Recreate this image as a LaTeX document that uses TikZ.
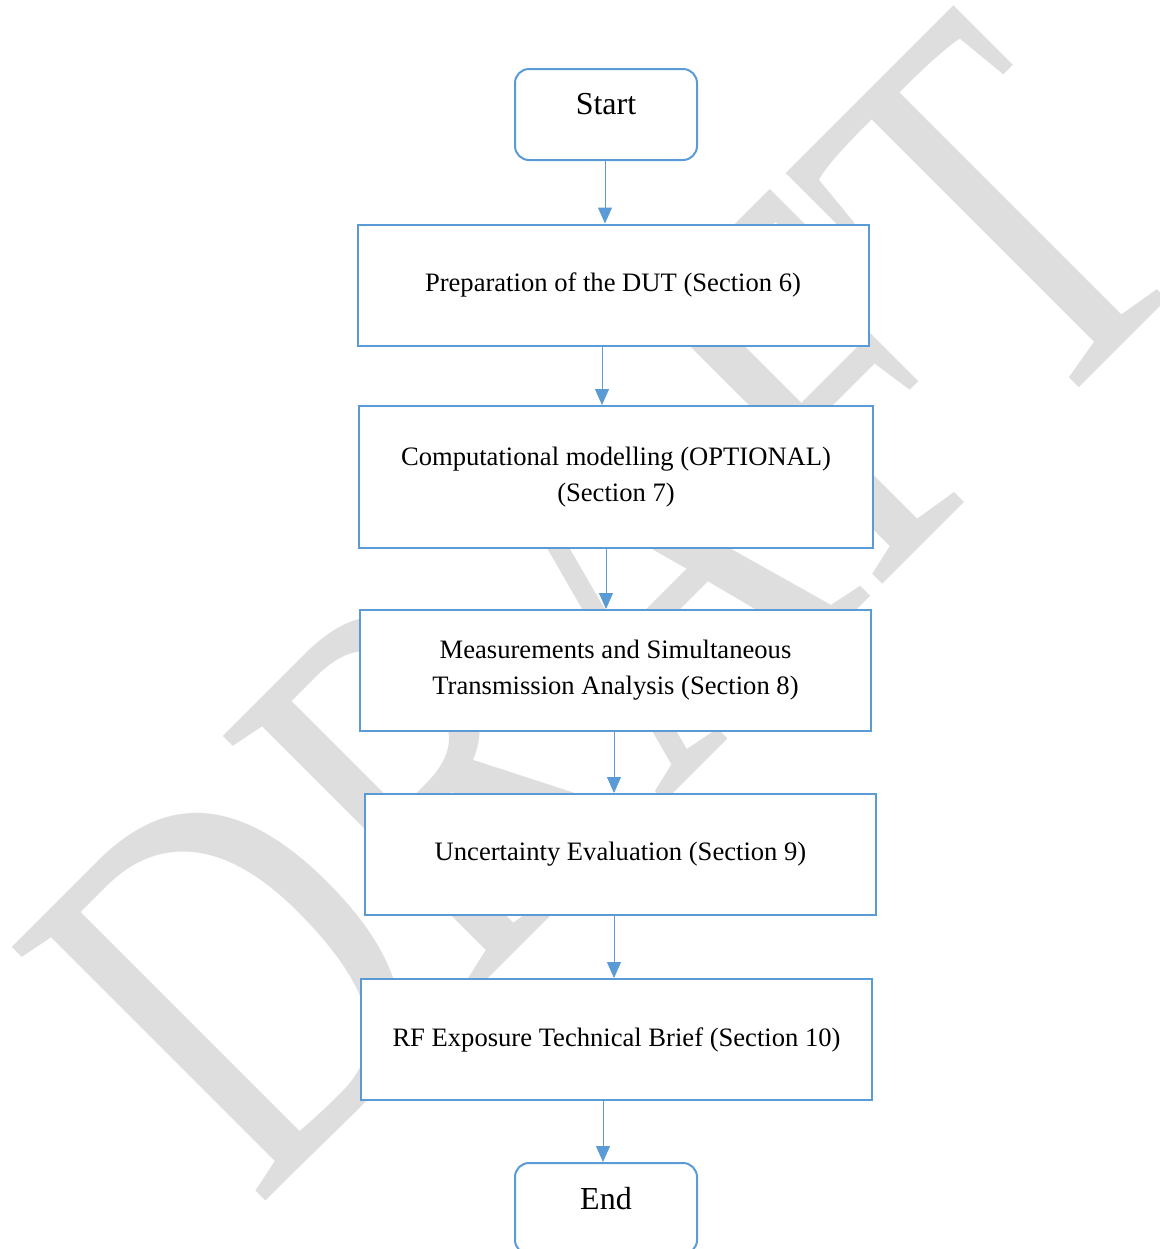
\documentclass[tikz,border=0pt]{standalone}
\usepackage{fontspec}
\setmainfont{Liberation Serif}
\usepackage{xcolor}
\definecolor{flowblue}{RGB}{91,155,213}
\definecolor{draftgray}{gray}{0.87}
\usepackage{tikz}
\usetikzlibrary{arrows.meta, positioning, shapes}

\begin{document}
\begin{tikzpicture}[x=0.5pt, y=-0.5pt,
	stagebox/.style={draw=flowblue, line width=1pt, fill=white, inner sep=0pt,
		minimum width=255.5pt, minimum height=60.5pt, align=center,
		font=\fontsize{13.3}{18}\selectfont},
	termbox/.style={draw=flowblue, line width=1pt, fill=white, inner sep=0pt,
		rounded corners=7pt, minimum width=91pt, minimum height=45.5pt,
		text depth=10.5pt, font=\fontsize{16}{16}\selectfont},
	flow/.style={draw=flowblue, line width=0.5pt, -{Triangle[width=7pt, length=8pt]}}]

\useasboundingbox (0,0) rectangle (1160,1249);

% watermark
\node[text=draftgray, rotate=45, inner sep=0pt, font=\fontsize{206}{206}\selectfont]
	(draft) at (608,604) {\scalebox{1}[1.33]{DRAFT}};

\node[termbox] (start) at (606,114.5) {Start};
\node[stagebox] (prep)  at (613,285) {Preparation of the DUT (Section 6)};
\node[stagebox, minimum width=257pt, minimum height=71pt] (model) at (616,477)
	{Computational modelling (OPTIONAL)\\(Section 7)};
\node[stagebox] (meas)  at (615.5,670.5) {Measurements and Simultaneous\\Transmission Analysis (Section 8)};
\node[stagebox] (unc)   at (620.5,854.5) {Uncertainty Evaluation (Section 9)};
\node[stagebox] (brief) at (616.5,1039.5) {RF Exposure Technical Brief (Section 10)};
\node[termbox] (finish) at (606,1208.5) {End};

\draw[flow] (start.south -| 605,0) -- (prep.north -| 605,0);
\draw[flow] (prep.south -| 602,0)  -- (model.north -| 602,0);
\draw[flow] (model.south -| 606,0) -- (meas.north -| 606,0);
\draw[flow] (meas.south -| 614,0)  -- (unc.north -| 614,0);
\draw[flow] (unc.south -| 614,0)   -- (brief.north -| 614,0);
\draw[flow] (brief.south -| 603,0) -- (finish.north -| 603,0);

\end{tikzpicture}
\end{document}
